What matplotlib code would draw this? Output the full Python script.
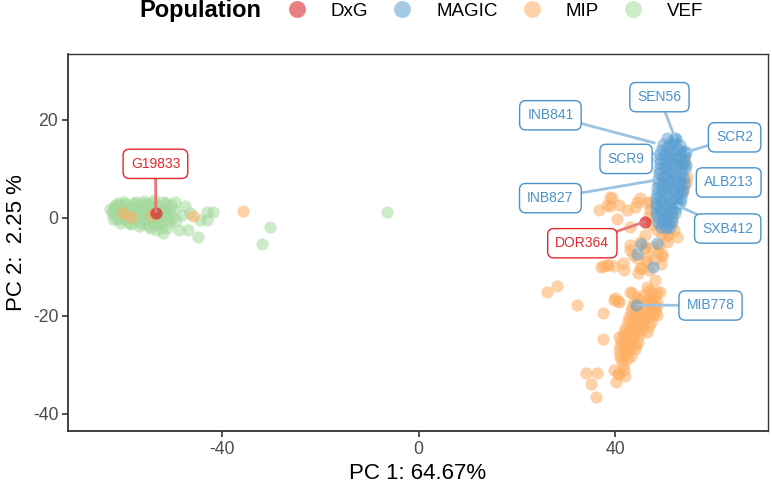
import matplotlib
matplotlib.use("Agg")
import matplotlib.pyplot as plt
from matplotlib.lines import Line2D

plt.rcParams['font.family'] = ['Liberation Sans', 'DejaVu Sans']
plt.rcParams['axes.unicode_minus'] = False

# ---------------- data (PC1, PC2) ----------------
vef_x = [-62.5, -62.0, -61.8, -61.5, -61.0, -60.8, -60.5, -60.2, -59.8, -59.5, -59.2, -59.0,
         -58.6, -58.3, -58.0, -57.7, -57.4, -57.0, -56.8, -56.5, -56.2, -55.9, -55.6, -55.3,
         -55.0, -54.7, -54.4, -54.1, -53.8, -53.5, -53.2, -52.9, -52.6, -52.3, -52.0, -51.7,
         -51.4, -51.1, -50.8, -50.5, -60.0, -61.2, -58.8, -57.2, -56.0, -54.8, -53.0, -55.5,
         -57.8, -59.6, -62.2, -61.6, -60.4, -56.6, -54.2,
         -62.8, -62.3, -61.3, -60.0, -58.5, -57.5, -56.0, -55.0, -53.8, -52.5, -51.5, -50.2,
         -49.5, -51.0, -59.0, -60.8, -61.8, -55.8, -53.5, -57.0, -58.0, -56.0, -54.0, -52.0,
         -49.6, -47.6, -48.9, -47.0, -45.0, -43.2, -41.9, -44.6, -52.0, -54.7, -43.2, -48.2,
         -50.6, -52.7, -46.5, -49.8, -30.3, -32.0, -6.5]
vef_y = [1.0, 2.0, 0.2, 1.5, 2.6, 0.6, -0.3, 1.8, 2.9, 1.0, -0.6, 2.2,
         0.3, 1.5, 3.0, -0.2, 2.1, 0.8, -1.0, 1.8, 2.9, 0.2, 1.2, -0.5,
         2.4, 0.6, 3.1, -1.2, 1.9, 0.0, 2.6, 0.9, -0.8, 1.6, 3.3, 0.3,
         2.0, -0.4, 1.1, 2.7, 0.0, -0.2, 1.2, 1.3, -0.4, 1.5, -1.5, 2.8,
         2.6, 1.6, 1.4, 0.8, 2.2, 0.2, 0.9,
         1.8, -0.3, 3.0, 3.2, -1.2, 3.3, 3.5, -1.6, 3.6, -2.0, 3.1, 0.2,
         -0.5, -1.8, -1.0, -1.0, 2.7, -1.3, -2.5, -1.7, 0.5, 1.0, 2.0, 0.8,
         3.3, 2.3, -2.4, -2.5, -3.9, 1.2, 1.2, -0.5, -3.2, -2.0, -0.5, 0.5,
         -0.8, -1.1, 0.9, 1.5, -1.8, -5.4, 1.2]

mip_x = [-60.2, -58.5, -54.4, -45.9, -35.8,
         39.3, 39.0, 36.6, 40.8, 44.4, 44.0, 40.3, 47.1, 47.1, 46.8, 51.9, 51.2, 51.6,
         54.6, 54.3, 54.0, 54.5, 53.8, 48.5, 47.5, 49.5, 50.5, 52.5, 46.0, 45.1, 46.1,
         47.4, 49.0, 48.7, 49.6, 47.9, 46.2, 44.5, 43.6, 45.5, 46.9, 49.3, 41.5, 37.6,
         38.6, 50.6, 50.8, 39.0, 38.3, 42.4, 45.1, 46.4, 43.1,
         26.1, 28.1, 32.2, 37.5, 37.6, 34.1, 36.2, 35.0, 36.1, 40.2, 40.8, 41.8, 37.1,
         38.3, 39.8, 41.8, 39.7, 40.7, 43.1, 43.1, 44.7, 45.1, 46.4, 48.1, 46.8, 48.5,
         49.5, 46.1, 43.1,
         44.5, 45.6, 46.8, 48.0,
         43.8, 45.0, 46.2, 47.4, 48.6,
         43.5, 44.7, 45.9, 47.1, 48.3,
         43.2, 44.4, 45.6, 46.8, 48.0,
         42.9, 44.0, 45.2, 46.4, 47.6,
         42.6, 43.7, 44.9, 46.0, 47.2,
         42.2, 43.4, 44.5, 45.6, 46.8,
         41.8, 43.0, 44.1, 45.3, 46.4,
         41.5, 42.6, 43.8, 44.9,
         41.2, 42.3, 43.4, 44.6,
         41.0, 42.0, 43.1, 44.2,
         40.8, 41.9, 42.9, 44.0,
         40.9, 42.0, 43.2,
         41.2, 42.4, 41.6,
         47.1, 48.4, 48.5, 49.1, 47.4, 46.4, 40.7, 40.5, 39.8, 41.9, 43.4, 39.9, 40.6]
mip_y = [0.9, 0.1, 0.6, 0.4, 1.4,
         4.0, 2.4, 1.6, 2.6, 3.3, 2.2, -0.2, 3.3, 1.6, 0.3, -2.5, -1.1, 0.6,
         8.4, 11.1, 12.5, 7.0, 5.5, -2.5, -1.5, -3.3, -3.8, -4.0, -3.5, -4.9, -5.9,
         -5.9, -5.5, -6.9, -7.9, -8.5, -8.8, -8.2, -7.7, -10.3, -10.6, -9.5, -9.2, -9.8,
         -9.6, -5.0, -3.5, 4.3, 2.6, 1.6, 4.0, 3.0, -1.9,
         -15.1, -13.9, -17.8, -19.5, -24.8, -31.6, -31.6, -33.9, -36.5, -33.5, -31.8, -31.1, -10.1,
         -9.6, -9.8, -10.7, -16.8, -17.1, -15.1, -6.6, -11.3, -10.3, -8.3, -12.7, -14.7, -15.1,
         -7.3, -6.2, -5.6,
         -16.2, -15.8, -16.3, -15.9,
         -17.1, -16.8, -17.3, -16.9, -17.2,
         -18.2, -17.9, -18.3, -17.8, -18.1,
         -19.1, -18.8, -19.3, -19.0, -19.2,
         -20.2, -19.8, -20.3, -20.0, -20.1,
         -21.1, -20.9, -21.3, -20.8, -21.2,
         -22.2, -21.8, -22.3, -21.9, -22.1,
         -23.1, -22.9, -23.2, -22.8, -23.3,
         -24.1, -23.8, -24.2, -23.9,
         -25.2, -24.9, -25.1, -25.3,
         -26.1, -25.8, -26.2, -25.9,
         -27.2, -26.9, -27.1, -26.8,
         -28.1, -27.9, -28.2,
         -29.1, -28.9, -30.1,
         -16.4, -18.5, -19.9, -15.1, -15.3, -14.1, -24.3, -31.8, -31.0, -32.2, -15.3, -16.4, -16.9]

magic_x = [50.6, 51.8, 52.4,
           49.8, 50.9, 52.0, 53.1,
           49.4, 50.5, 51.6, 52.7, 53.8,
           49.2, 50.2, 51.3, 52.4, 53.5, 54.3,
           49.0, 50.1, 51.0, 52.1, 53.2, 54.1,
           49.1, 50.3, 51.4, 52.5, 53.6, 54.4,
           48.9, 49.9, 51.0, 52.2, 53.3, 54.2,
           49.0, 50.1, 51.2, 52.3, 53.4,
           48.8, 49.8, 50.9, 52.0, 53.1, 54.0,
           48.7, 49.7, 50.8, 51.9, 53.0, 53.9,
           48.6, 49.6, 50.7, 51.8, 52.9, 53.7,
           48.5, 49.5, 50.6, 51.7, 52.8, 53.6,
           48.4, 49.4, 50.5, 51.6, 52.6, 53.4,
           48.3, 49.3, 50.4, 51.5, 52.5, 53.2,
           48.4, 49.4, 50.4, 51.4, 52.4,
           48.3, 49.3, 50.3, 51.3, 52.2,
           48.5, 49.5, 50.5, 51.5,
           48.8, 49.8, 50.8, 51.6,
           49.4, 50.4, 51.2,
           45.3, 48.5, 44.4, 47.7, 44.3, 54.5, 52.2]
magic_y = [16.2, 15.8, 16.0,
           15.1, 14.8, 15.3, 14.9,
           13.9, 14.2, 13.8, 14.1, 13.6,
           13.1, 12.8, 13.3, 12.9, 13.2, 12.7,
           12.0, 11.7, 12.2, 11.9, 12.1, 11.6,
           11.1, 10.8, 11.2, 10.9, 11.0, 10.7,
           10.0, 10.2, 9.8, 10.1, 9.9, 10.2,
           9.1, 8.8, 9.2, 8.9, 9.0,
           8.0, 8.2, 7.8, 8.1, 7.9, 8.1,
           7.0, 6.8, 7.2, 6.9, 7.1, 6.8,
           6.1, 5.8, 6.2, 5.9, 6.0, 5.8,
           5.0, 5.2, 4.8, 5.1, 4.9, 5.1,
           4.1, 3.8, 4.2, 3.9, 4.0, 3.8,
           3.0, 3.2, 2.8, 3.1, 2.9, 3.1,
           2.1, 1.8, 2.2, 1.9, 2.0,
           1.0, 1.2, 0.8, 1.1, 0.9,
           0.1, -0.2, 0.2, -0.1,
           -1.0, -0.8, -1.2, -0.9,
           -1.9, -2.1, -1.8,
           -5.4, -5.2, -7.4, -10.0, -17.8, 13.4, 16.2]

dxg_x = [-53.5, 46.1]
dxg_y = [1.0, -0.8]

# labels: text, population, label position, point position
lab_text = ["G19833", "DOR364", "INB841", "SEN56", "SCR2", "SCR9", "ALB213", "INB827", "SXB412", "MIB778"]
lab_pop = ["DxG", "DxG", "MAGIC", "MAGIC", "MAGIC", "MAGIC", "MAGIC", "MAGIC", "MAGIC", "MAGIC"]
lab_x = [-53.6, 33.3, 26.8, 49.0, 64.3, 42.2, 63.1, 26.8, 62.9, 59.4]
lab_y = [11.0, -5.2, 20.9, 24.6, 16.4, 12.0, 7.2, 4.0, -2.2, -17.9]
pt_x = [-53.5, 46.1, 48.2, 52.2, 54.5, 48.7, None, 48.5, 52.5, 44.3]
pt_y = [1.0, -0.8, 15.2, 16.2, 13.4, 13.2, None, 7.7, 2.6, -17.8]

pops = ["DxG", "MAGIC", "MIP", "VEF"]
cols = {"DxG": "#D7191C", "MAGIC": "#5A9FD2", "MIP": "#FDAE61", "VEF": "#A5D99D"}
text_cols = {"DxG": "#E3262B", "MAGIC": "#4A93C9"}
line_cols = {"DxG": "#E8777A", "MAGIC": "#9CC3E2"}

# ---------------- figure ----------------
W, H = 772, 487
fig = plt.figure(figsize=(W / 100, H / 100), dpi=100)
ax = fig.add_axes([68 / W, 56 / H, 700 / W, 377 / H])

alpha = 0.55
s = 78
ax.scatter(vef_x, vef_y, s=s, color=cols["VEF"], alpha=alpha, linewidths=0, zorder=2)
ax.scatter(mip_x, mip_y, s=s, color=cols["MIP"], alpha=alpha, linewidths=0, zorder=3)
ax.scatter(magic_x, magic_y, s=s, color=cols["MAGIC"], alpha=0.5, linewidths=0, zorder=4)
ax.scatter(dxg_x, dxg_y, s=s, color=cols["DxG"], alpha=0.65, linewidths=0, zorder=5)

for t, p, lx, ly, px, py in zip(lab_text, lab_pop, lab_x, lab_y, pt_x, pt_y):
    if px is not None:
        ax.plot([lx, px], [ly, py], color=line_cols[p], lw=2.0, zorder=6,
                solid_capstyle='butt')
    ax.text(lx, ly, t, ha='center', va='center', fontsize=10, color=text_cols[p], zorder=8,
            bbox=dict(boxstyle='round,pad=0.55,rounding_size=0.45', fc='white',
                      ec=text_cols[p], lw=1.0))

ax.set_xlim(-71.4, 71.1)
ax.set_ylim(-43.5, 33.4)
ax.set_xticks([-40, 0, 40])
ax.set_yticks([-40, -20, 0, 20])
for sp in ax.spines.values():
    sp.set_color('#333333')
    sp.set_linewidth(1.0)
ax.spines['bottom'].set_linewidth(1.3)
ax.spines['left'].set_linewidth(1.3)
ax.tick_params(axis='both', length=4, width=1.2, color='#333333', labelcolor='#4D4D4D',
               labelsize=12.7, pad=3)
ax.set_xlabel("PC 1: 64.67%", fontsize=16, color='black', labelpad=4)
ax.set_ylabel("PC 2:  2.25 %", fontsize=16, color='black', labelpad=4)

# legend
handles = [Line2D([], [], marker='o', ls='', markersize=12.2, markeredgewidth=0,
                  color=cols[p], alpha=alpha) for p in pops]
fs = 13.5
leg = fig.legend(handles, pops, loc='center left', ncol=4,
                 bbox_to_anchor=((297 - 9.4) / W, 1 - 11 / H), frameon=False,
                 fontsize=fs, handlelength=1.0, handletextpad=1.31, columnspacing=1.31,
                 borderpad=0, borderaxespad=0)
fig.text(139 / W, 1 - 11 / H, "Population", fontsize=17, fontweight='bold',
         ha='left', va='center')

fig.savefig("out.png", dpi=100)
